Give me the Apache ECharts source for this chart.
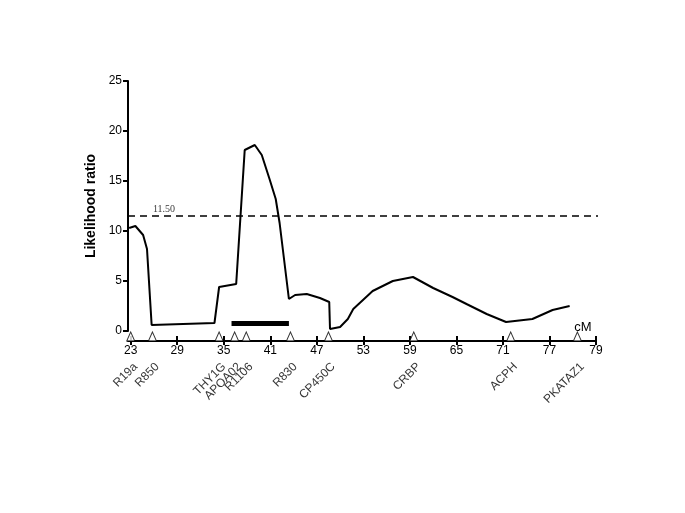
<!DOCTYPE html>
<html>
<head>
<meta charset="utf-8">
<script src="https://cdn.jsdelivr.net/npm/echarts@6/dist/echarts.min.js"></script>
<style>
  html, body { margin: 0; padding: 0; background: #fff; }
  #main { width: 685px; height: 513px; }
</style>
</head>
<body>
<div id="main"></div>
<script>
  // likelihood ratio curve (cM, LR)
  var curveCM = [22.8, 23.6, 24.6, 25.1, 25.7, 33.8, 34.4, 36.6, 37.7, 39.0, 39.9, 40.9, 41.7, 42.2, 43.4, 44.2, 45.7, 47.4, 48.6, 48.7, 50.0, 51.0, 51.7, 54.2, 56.8, 59.4, 62.0, 64.5, 66.3, 68.9, 71.4, 74.8, 77.4, 79.6]
  var curveLR = [10.3, 10.5, 9.6, 8.2, 0.6, 0.8, 4.4, 4.7, 18.1, 18.6, 17.6, 15.2, 13.2, 10.8, 3.2, 3.6, 3.7, 3.3, 2.9, 0.2, 0.4, 1.2, 2.2, 4.0, 5.0, 5.4, 4.3, 3.4, 2.7, 1.7, 0.9, 1.2, 2.1, 2.5]
  // markers along the map
  var markerNames = ['R19a', 'R850', 'THY1G', 'APOA02', 'R1106', 'R830', 'CP450C', 'CRBP', 'ACPH', 'PKATAZ1']
  var markerCM = [23.0, 25.8, 34.4, 36.4, 37.9, 43.6, 48.5, 59.5, 72.0, 80.6]
  // confidence bar
  var barCM = [36.0, 43.4]
  var barLR = 0.75
  var threshold = 11.5
  var thresholdLabelCM = 27.3
  var xTicks = [23, 29, 35, 41, 47, 53, 59, 65, 71, 77, 83]
  var xTickLabels = ['23', '29', '35', '41', '47', '53', '59', '65', '71', '77', '79']

  var font = 'Arial, "Liberation Sans", sans-serif'
  var chart = echarts.init(document.getElementById('main'))

  var curve = curveCM.map(function (c, i) { return [c, curveLR[i]] })
  var markers = markerCM.map(function (c, i) { return { value: [c, -0.55], name: markerNames[i] } })

  var option = {
    animation: false,
    textStyle: { fontFamily: font, color: '#000' },
    grid: { left: 128, right: 89, top: 81, bottom: 182 },
    xAxis: [
      {
        type: 'value', min: 22.65, max: 83, offset: 10,
        name: 'cM', nameLocation: 'end', nameGap: -13,
        nameTextStyle: { fontFamily: font, fontSize: 13, color: '#000', align: 'center', verticalAlign: 'bottom', padding: [0, 0, 7, 0] },
        axisLine: { onZero: false, lineStyle: { color: '#000', width: 2 } },
        axisTick: { customValues: xTicks, length: 4, lineStyle: { color: '#000', width: 2 } },
        axisLabel: {
          customValues: xTicks, color: '#000', fontSize: 12, fontFamily: font, margin: 4,
          formatter: function (v) { return xTickLabels[xTicks.indexOf(v)] }
        },
        splitLine: { show: false }
      },
      {
        type: 'value', min: 22.65, max: 83, offset: 10, position: 'bottom',
        axisLine: { show: false, onZero: false },
        axisTick: { inside: true, customValues: xTicks, length: 5, lineStyle: { color: '#000', width: 2 } },
        axisLabel: { show: false },
        splitLine: { show: false }
      }
    ],
    yAxis: {
      type: 'value', min: 0, max: 25, interval: 5,
      name: 'Likelihood ratio', nameLocation: 'middle', nameGap: 30,
      nameTextStyle: { fontFamily: font, fontSize: 14, fontWeight: 'bold', color: '#000' },
      axisLine: { show: true, lineStyle: { color: '#000', width: 2 } },
      axisTick: { show: true, length: 5, lineStyle: { color: '#000', width: 2 } },
      axisLabel: { color: '#000', fontSize: 12, fontFamily: font, margin: 6 },
      splitLine: { show: false }
    },
    series: [
      {
        name: 'LR', type: 'line', data: curve, showSymbol: false, symbol: 'none',
        lineStyle: { color: '#000', width: 2 }
      },
      {
        name: 'threshold', type: 'line', symbol: 'none', clip: false,
        data: [[22.65, threshold], [83.6, threshold]],
        lineStyle: { color: '#000', width: 1.5, type: [7, 5] }
      },
      {
        name: 'thresholdLabel', type: 'scatter', symbolSize: 0,
        data: [[thresholdLabelCM, threshold]],
        label: {
          show: true, position: 'top', distance: 2, fontSize: 10, color: '#000',
          fontFamily: '"Times New Roman", "Liberation Serif", serif',
          formatter: threshold.toFixed(2)
        }
      },
      {
        name: 'bar', type: 'line', symbol: 'none',
        data: [[barCM[0], barLR], [barCM[1], barLR]],
        lineStyle: { color: '#000', width: 5, cap: 'butt' }
      },
      {
        name: 'markers', type: 'scatter', data: markers, clip: false,
        symbol: 'triangle', symbolSize: [8, 9],
        itemStyle: { color: '#fff', borderColor: '#000', borderWidth: 1 },
        label: {
          show: true, formatter: '{b}', position: 'bottom', distance: 0,
          rotate: 45, align: 'right', verticalAlign: 'middle', offset: [-13, 20],
          fontSize: 12, color: '#000', fontFamily: font
        }
      }
    ]
  }
  chart.setOption(option)
</script>
</body>
</html>
